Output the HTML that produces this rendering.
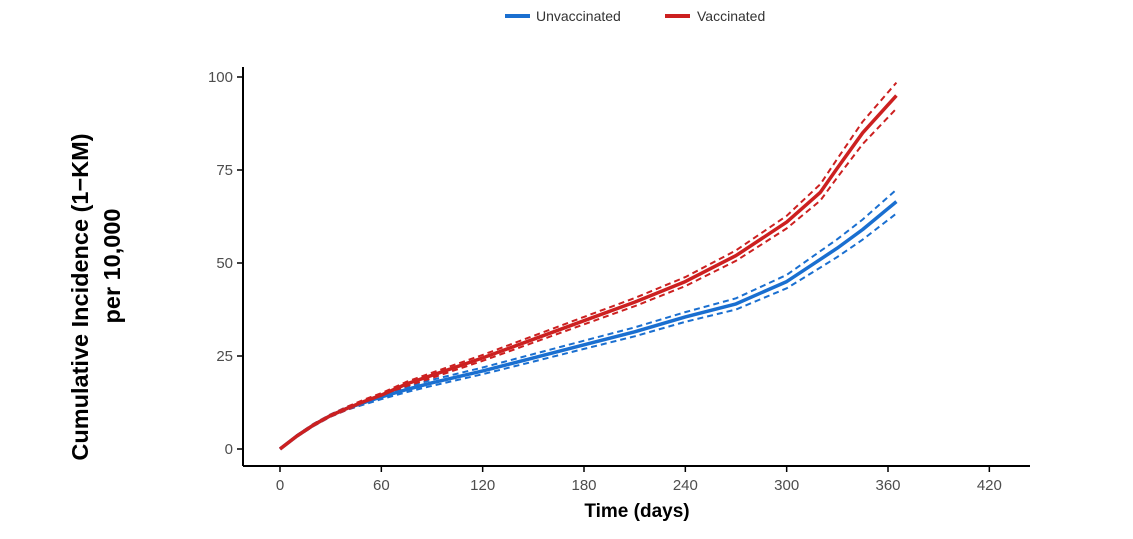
<!DOCTYPE html>
<html><head><meta charset="utf-8"><style>
body{margin:0;background:#fff;font-family:"Liberation Sans",Arial,sans-serif}
svg text{font-family:"Liberation Sans",Arial,sans-serif}
</style></head><body>
<svg id="c" width="1133" height="534" viewBox="0 0 1133 534">
<g>
<line x1="505" y1="16" x2="530" y2="16" stroke="#1a6fd0" stroke-width="4"/>
<text x="536" y="21" font-size="14" fill="#333">Unvaccinated</text>
<line x1="665" y1="16" x2="690" y2="16" stroke="#cc2020" stroke-width="4"/>
<text x="697" y="21" font-size="14" fill="#333">Vaccinated</text>
</g>
<text transform="translate(88,297) rotate(-90)" text-anchor="middle" font-size="23.5" font-weight="bold" fill="#000">Cumulative Incidence (1−KM)</text>
<text transform="translate(120,266) rotate(-90)" text-anchor="middle" font-size="23.5" font-weight="bold" fill="#000">per 10,000</text>
<text x="637" y="517" text-anchor="middle" font-size="19" font-weight="bold" fill="#000">Time (days)</text>
<g id="axes"></g>
<g id="series"></g>
</svg>
<script>
const xTicks=[0,60,120,180,240,300,360,420];
const yTicks=[0,25,50,75,100];
const days=[0,10,20,30,40,50,60,75,90,120,150,180,210,240,270,300,320,330,345,365];
const vacc=[0,3.5,6.5,9,11,12.8,14.5,17.5,19.8,24.5,29.5,34.5,39.5,45,52,61,69,75.5,85,95];
const vaccLo=[0,3.3,6.2,8.7,10.6,12.3,14,16.9,19.1,23.7,28.6,33.5,38.4,43.8,50.6,59.3,66.8,73,82,91.5];
const vaccHi=[0,3.7,6.8,9.3,11.4,13.3,15,18.1,20.5,25.3,30.4,35.5,40.6,46.2,53.4,62.7,71.2,78,88,98.5];
const unvacc=[0,3.5,6.5,9,11,12.5,14,16,17.8,21,24.5,28,31.5,35.5,39,45,51,54,59,66.5];
const unvaccLo=[0,3.3,6.2,8.7,10.6,12,13.4,15.3,17,20.1,23.5,26.9,30.3,34.2,37.5,43.2,48.8,51.6,56.3,63.3];
const unvaccHi=[0,3.7,6.8,9.3,11.4,13,14.6,16.7,18.6,21.9,25.5,29.1,32.7,36.8,40.5,46.8,53.2,56.4,61.7,69.7];
const X=d=>280+d*(888-280)/360;
const Y=v=>449-v*(449-77)/100;
const NS="http://www.w3.org/2000/svg";
const ax=document.getElementById('axes'),se=document.getElementById('series');
function mk(tag,at,par){const e=document.createElementNS(NS,tag);for(const k in at)e.setAttribute(k,at[k]);par.appendChild(e);return e;}
let l=mk('line',{x1:243,y1:67,x2:243,y2:466,stroke:'#000','stroke-width':2},ax);


l=mk('line',{x1:243,y1:466,x2:1030,y2:466,stroke:'#000','stroke-width':2},ax);


xTicks.forEach(t=>{
 const tk=mk('line',{x1:X(t),y1:466,x2:X(t),y2:472,stroke:'#000','stroke-width':1.5},ax);
 
 
 const tx=mk('text',{x:X(t),y:490,'text-anchor':'middle','font-size':15,fill:'#4d4d4d'},ax);
 tx.textContent=t;
 
 
});
yTicks.forEach(t=>{
 const tk=mk('line',{x1:237,y1:Y(t),x2:243,y2:Y(t),stroke:'#000','stroke-width':1.5},ax);
 
 
 const tx=mk('text',{x:233,y:Y(t)+5,'text-anchor':'end','font-size':15,fill:'#4d4d4d'},ax);
 tx.textContent=t;
 
 
});
function path(vals){return vals.map((v,i)=>(i?'L':'M')+X(days[i]).toFixed(1)+','+Y(v).toFixed(1)).join('');}
function draw(vals,col,w,dash,name){
 const p=mk('path',{d:path(vals),fill:'none',stroke:col,'stroke-width':w,'stroke-linejoin':'round'},se);
 if(dash)p.setAttribute('stroke-dasharray',dash);
 
 
}
draw(unvaccLo,'#1a6fd0',2,'6,4','unvaccinated-ci-lower');
draw(unvaccHi,'#1a6fd0',2,'6,4','unvaccinated-ci-upper');
draw(vaccLo,'#cc2020',2,'6,4','vaccinated-ci-lower');
draw(vaccHi,'#cc2020',2,'6,4','vaccinated-ci-upper');
draw(unvacc,'#1a6fd0',3.5,null,'unvaccinated-line');
draw(vacc,'#cc2020',3.5,null,'vaccinated-line');
</script>
</body></html>
